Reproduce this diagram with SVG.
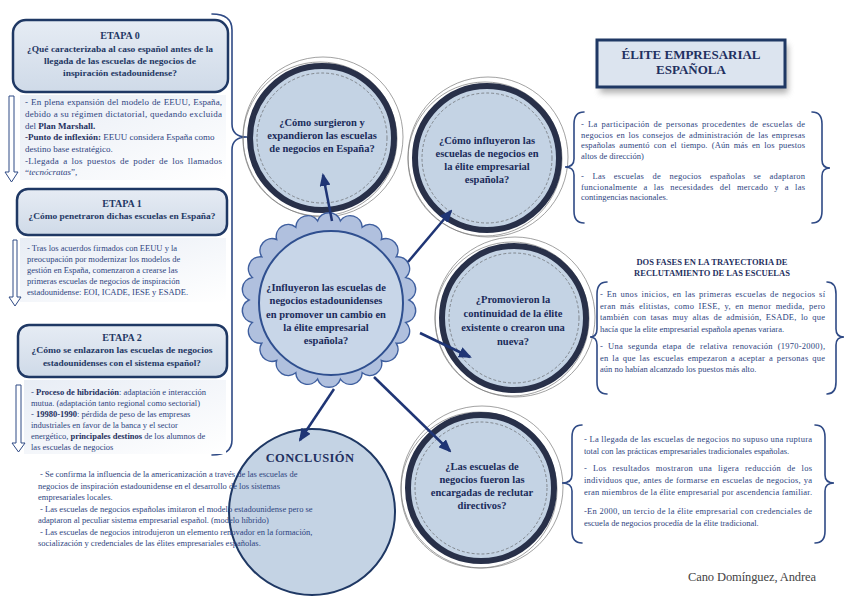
<svg xmlns="http://www.w3.org/2000/svg" width="848" height="599" viewBox="0 0 848 599" font-family="'Liberation Serif','Times New Roman',serif">
<style>
text{font-family:"Liberation Serif","Times New Roman",serif}
.body{font-size:8.5px;fill:#2e4480}
.body9{font-size:9px;fill:#2e4480}
.b{font-weight:bold;fill:#1f3060}
.ttl{font-size:10px;font-weight:bold;fill:#1f3864;text-anchor:middle}
.q{font-size:9px;font-weight:bold;fill:#1f3864;text-anchor:middle}
.ctext{font-size:10.5px;font-weight:bold;fill:#1a2b5a;text-anchor:middle}
.etbox{fill:url(#boxg);stroke:#1f3864;stroke-width:2.5}
.shade{fill:url(#shadeg)}
.harrow{fill:#fff;stroke:#2f4a85;stroke-width:1}
.brace{fill:none;stroke:#2f4a85;stroke-width:1.6;stroke-linecap:round}
.thick{fill:#c4d3e4;stroke:#283049;stroke-width:6}
.thin{fill:none;stroke:#7a7a7a;stroke-width:0.7}
.dash{fill:none;stroke:#555;stroke-width:0.6;stroke-dasharray:3 2}
.conn{stroke:#1f3575;stroke-width:2.5;fill:none;marker-end:url(#ah)}
</style>
<defs>
<linearGradient id="boxg" x1="0" y1="0" x2="0" y2="1">
<stop offset="0" stop-color="#e6ecf4"/><stop offset="1" stop-color="#cfdae8"/>
</linearGradient>
<linearGradient id="shadeg" x1="0" y1="0" x2="1" y2="1">
<stop offset="0" stop-color="#e8edf5"/><stop offset="1" stop-color="#ffffff"/>
</linearGradient>
<filter id="blur" x="-20%" y="-40%" width="140%" height="180%"><feGaussianBlur stdDeviation="3"/></filter>
<marker id="ah" markerUnits="userSpaceOnUse" markerWidth="13" markerHeight="11" viewBox="0 0 13 11" refX="11" refY="5.5" orient="auto">
<path d="M0,0 L13,5.5 L0,11 z" fill="#1f3575"/>
</marker>
</defs>
<rect width="848" height="599" fill="#ffffff"/>

<!-- left column brace -->
<path class="brace" d="M212,14 Q232,14 232,30 L232,124 Q232,137 247,137 Q232,137 232,150 L232,440 Q232,455 212,455"/>

<g id="etapa0">
<rect class="shade" x="20" y="95" width="206" height="85"/>
<rect class="etbox" x="13" y="20" width="215" height="72" rx="13"/>
<text class="ttl" x="120" y="39">ETAPA 0</text>
<text class="q" x="120" y="52" textLength="186" lengthAdjust="spacingAndGlyphs">¿Qué caracterizaba al caso español antes de la</text>
<text class="q" x="120" y="64" textLength="152" lengthAdjust="spacingAndGlyphs">llegada de las escuelas de negocios de</text>
<text class="q" x="120" y="76" textLength="114" lengthAdjust="spacingAndGlyphs">inspiración estadounidense?</text>
<path class="harrow" d="M9,96 L14,96 L14,172 L18,172 L11.5,182 L5,172 L9,172 Z"/>
<text class="body9" x="25" y="105" word-spacing="0.7" textLength="197" lengthAdjust="spacing">- En plena expansión del modelo de EEUU, España,</text>
<text class="body9" x="25" y="117" textLength="197" lengthAdjust="spacing">debido a su régimen dictatorial, quedando excluida</text>
<text class="body9" x="25" y="129">del <tspan class="b">Plan Marshall.</tspan></text>
<text class="body9" x="25" y="140"><tspan class="b">-Punto de inflexión:</tspan> EEUU considera España como</text>
<text class="body9" x="25" y="152">destino base estratégico.</text>
<text class="body9" x="25" y="164" word-spacing="1.7" textLength="197" lengthAdjust="spacing">-Llegada a los puestos de poder de los llamados</text>
<text class="body9" x="25" y="175">“<tspan font-style="italic">tecnócratas</tspan>”,</text>
</g>

<g id="etapa1">
<rect class="shade" x="20" y="238" width="206" height="64"/>
<rect class="etbox" x="17" y="189" width="210" height="46" rx="11"/>
<text class="ttl" x="122" y="207">ETAPA 1</text>
<text class="q" x="122" y="219" textLength="187" lengthAdjust="spacingAndGlyphs">¿Cómo penetraron dichas escuelas en España?</text>
<path class="harrow" d="M13,240 L17,240 L17,297 L21,297 L15,306 L9,297 L13,297 Z"/>
<text class="body" x="27" y="251">- Tras los acuerdos firmados con EEUU y la</text>
<text class="body" x="27" y="262">preocupación por modernizar los modelos de</text>
<text class="body" x="27" y="273">gestión en España, comenzaron a crearse las</text>
<text class="body" x="27" y="284">primeras escuelas de negocios de inspiración</text>
<text class="body" x="27" y="295">estadounidense: EOI, ICADE, IESE y ESADE.</text>
</g>

<g id="etapa2">
<rect class="shade" x="24" y="380" width="202" height="74"/>
<rect class="etbox" x="18" y="325" width="209" height="52" rx="11"/>
<text class="ttl" x="122" y="341">ETAPA 2</text>
<text class="q" x="122" y="353" textLength="181" lengthAdjust="spacingAndGlyphs">¿Cómo se enlazaron las escuelas de negocios</text>
<text class="q" x="122" y="366" textLength="158" lengthAdjust="spacingAndGlyphs">estadounidenses con el sistema español?</text>
<path class="harrow" d="M16,385 L21,385 L21,443 L25,443 L18.5,452 L12,443 L16,443 Z"/>
<text class="body" x="31" y="395">- <tspan class="b">Proceso de hibridación</tspan>: adaptación e interacción</text>
<text class="body" x="31" y="406">mutua. (adaptación tanto regional como sectorial)</text>
<text class="body" x="31" y="417">- <tspan class="b">19980-1990</tspan>: pérdida de peso de las empresas</text>
<text class="body" x="31" y="428">industriales en favor de la banca y el sector</text>
<text class="body" x="31" y="439">energético, <tspan class="b">principales destinos</tspan> de los alumnos de</text>
<text class="body" x="31" y="450">las escuelas de negocios</text>
</g>

<g id="circle-surgieron">
<circle class="thin" cx="323" cy="137" r="80"/>
<circle class="thin" cx="320" cy="139" r="77"/>
<circle class="thick" cx="322" cy="138" r="72"/>
<circle class="dash" cx="322" cy="138" r="65"/>
<text class="ctext" x="322" y="126">¿Cómo surgieron y</text>
<text class="ctext" x="322" y="139">expandieron las escuelas</text>
<text class="ctext" x="322" y="152">de negocios en España?</text>
</g>

<g id="circle-influyeron">
<circle class="thin" cx="488" cy="157" r="80"/>
<circle class="thin" cx="485" cy="159" r="77"/>
<circle class="thick" cx="487" cy="158" r="72"/>
<circle class="dash" cx="487" cy="158" r="65"/>
<text class="ctext" x="487" y="144">¿Cómo influyeron las</text>
<text class="ctext" x="487" y="157">escuelas de negocios en</text>
<text class="ctext" x="487" y="170">la élite empresarial</text>
<text class="ctext" x="487" y="183">española?</text>
</g>

<g id="circle-promovieron">
<circle class="thin" cx="515" cy="317" r="80"/>
<circle class="thin" cx="512" cy="319" r="77"/>
<circle class="thick" cx="514" cy="318" r="72"/>
<circle class="dash" cx="514" cy="318" r="65"/>
<text class="ctext" x="513" y="303">¿Promovieron la</text>
<text class="ctext" x="513" y="317">continuidad de la élite</text>
<text class="ctext" x="513" y="331">existente o crearon una</text>
<text class="ctext" x="513" y="345">nueva?</text>
</g>

<g id="circle-reclutar">
<circle class="thin" cx="482" cy="487" r="81"/>
<circle class="thin" cx="479" cy="490" r="78"/>
<circle class="thick" cx="481" cy="488" r="73"/>
<circle class="dash" cx="481" cy="488" r="66"/>
<text class="ctext" x="482" y="470">¿Las escuelas de</text>
<text class="ctext" x="482" y="483">negocios fueron las</text>
<text class="ctext" x="482" y="496">encargadas de reclutar</text>
<text class="ctext" x="482" y="509">directivos?</text>
</g>

<g id="center">
<path transform="translate(329,300)" fill="#b0c0de" stroke="#3f5f9f" stroke-width="1.5" d="M80,0 A12,12 0 0 1 76.76,22.54 A12,12 0 0 1 67.30,43.25 A12,12 0 0 1 52.39,60.46 A12,12 0 0 1 33.23,72.77 A12,12 0 0 1 11.38,79.18 A12,12 0 0 1 -11.38,79.18 A12,12 0 0 1 -33.23,72.77 A12,12 0 0 1 -52.39,60.46 A12,12 0 0 1 -67.30,43.25 A12,12 0 0 1 -76.76,22.54 A12,12 0 0 1 -80,0 A12,12 0 0 1 -76.76,-22.54 A12,12 0 0 1 -67.30,-43.25 A12,12 0 0 1 -52.39,-60.46 A12,12 0 0 1 -33.23,-72.77 A12,12 0 0 1 -11.38,-79.18 A12,12 0 0 1 11.38,-79.18 A12,12 0 0 1 33.23,-72.77 A12,12 0 0 1 52.39,-60.46 A12,12 0 0 1 67.30,-43.25 A12,12 0 0 1 76.76,-22.54 A12,12 0 0 1 80,0 Z"/>
<circle cx="331" cy="303" r="72" fill="#c8d6e8" stroke="#2f4f8f" stroke-width="2"/>
<text class="ctext" x="326" y="291">¿Influyeron las escuelas de</text>
<text class="ctext" x="326" y="304">negocios estadounidenses</text>
<text class="ctext" x="326" y="318">en promover un cambio en</text>
<text class="ctext" x="326" y="331">la élite empresarial</text>
<text class="ctext" x="326" y="344">española?</text>
</g>

<g id="conclusion">
<circle cx="312" cy="512" r="83" fill="#c4d3e4" stroke="#1f3864" stroke-width="2"/>
<text x="310" y="462" font-size="12.5" font-weight="bold" fill="#1f3060" text-anchor="middle" letter-spacing="0.4">CONCLUSIÓN</text>
<text class="body" x="40" y="477">- Se confirma la influencia de la americanización a través de las escuelas de</text>
<text class="body" x="38" y="489">negocios de inspiración estadounidense en el desarrollo de los sistemas</text>
<text class="body" x="38" y="500">empresariales locales.</text>
<text class="body" x="40" y="512">- Las escuelas de negocios españolas imitaron el modelo estadounidense pero se</text>
<text class="body" x="38" y="523">adaptaron al peculiar sistema empresarial español. (modelo híbrido)</text>
<text class="body" x="40" y="535">- Las escuelas de negocios introdujeron un elemento renovador en la formación,</text>
<text class="body" x="38" y="546">socialización y credenciales de las élites empresariales españolas.</text>
</g>

<g id="elite-title">
<rect x="600" y="45" width="188" height="48" fill="#7a7a7a" opacity="0.6" filter="url(#blur)"/>
<rect x="597" y="40" width="188" height="47" fill="#dce4ef" stroke="#1f3864" stroke-width="3"/>
<text x="691" y="59" font-size="13" font-weight="bold" fill="#1f3060" text-anchor="middle">ÉLITE EMPRESARIAL</text>
<text x="691" y="74" font-size="13" font-weight="bold" fill="#1f3060" text-anchor="middle">ESPAÑOLA</text>
</g>

<g id="note-participacion">
<path class="brace" d="M584,112 Q574,112 574,124 L574,159 Q574,167 565,167 Q574,167 574,175 L574,211 Q574,223 584,223"/>
<path class="brace" d="M812,112 Q822,112 822,124 L822,160 Q822,168 830,168 Q822,168 822,176 L822,211 Q822,223 812,223"/>
<text class="body" x="581" y="127" word-spacing="1.5" textLength="224" lengthAdjust="spacing">- La participación de personas procedentes de escuelas de</text>
<text class="body" x="581" y="138" word-spacing="1.2" textLength="224" lengthAdjust="spacing">negocios en los consejos de administración de las empresas</text>
<text class="body" x="581" y="148" word-spacing="1.8" textLength="224" lengthAdjust="spacing">españolas aumentó con el tiempo. (Aún más en los puestos</text>
<text class="body" x="581" y="159">altos de dirección)</text>
<text class="body" x="581" y="179" word-spacing="6" textLength="224" lengthAdjust="spacing">- Las escuelas de negocios españolas se adaptaron</text>
<text class="body" x="581" y="190" word-spacing="3.8" textLength="224" lengthAdjust="spacing">funcionalmente a las necesidades del mercado y a las</text>
<text class="body" x="581" y="200">contingencias nacionales.</text>
</g>

<g id="note-fases">
<text x="712" y="265" font-size="8.5" font-weight="bold" fill="#1f3060" text-anchor="middle">DOS FASES EN LA TRAYECTORIA DE</text>
<text x="712" y="276" font-size="8.5" font-weight="bold" fill="#1f3060" text-anchor="middle">RECLUTAMIENTO DE LAS ESCUELAS</text>
<path class="brace" d="M607,282 Q597,282 597,294 L597,329 Q597,337 590,337 Q597,337 597,345 L597,382 Q597,394 607,394"/>
<path class="brace" d="M827,282 Q836,282 836,294 L836,329 Q836,337 844,337 Q836,337 836,345 L836,382 Q836,394 827,394"/>
<text class="body" x="600" y="297" word-spacing="1" textLength="225" lengthAdjust="spacing">- En unos inicios, en las primeras escuelas de negocios sí</text>
<text class="body" x="600" y="309" word-spacing="2" textLength="225" lengthAdjust="spacing">eran más elitistas, como IESE, y, en menor medida, pero</text>
<text class="body" x="600" y="320" word-spacing="2" textLength="225" lengthAdjust="spacing">también con tasas muy altas de admisión, ESADE, lo que</text>
<text class="body" x="600" y="332">hacía que la elite empresarial española apenas variara.</text>
<text class="body" x="600" y="349" word-spacing="2.6" textLength="225" lengthAdjust="spacing">- Una segunda etapa de relativa renovación (1970-2000),</text>
<text class="body" x="600" y="361" word-spacing="1.4" textLength="225" lengthAdjust="spacing">en la que las escuelas empezaron a aceptar a personas que</text>
<text class="body" x="600" y="372">aún no habían alcanzado los puestos más alto.</text>
</g>

<g id="note-llegada">
<path class="brace" d="M582,425 Q572,425 572,437 L572,475 Q572,483 562,483 Q572,483 572,491 L572,531 Q572,543 582,543"/>
<path class="brace" d="M815,425 Q825,425 825,437 L825,475 Q825,483 834,483 Q825,483 825,491 L825,531 Q825,543 815,543"/>
<text class="body" x="584" y="442" textLength="228" lengthAdjust="spacing">- La llegada de las escuelas de negocios no supuso una ruptura</text>
<text class="body" x="584" y="454">total con las prácticas empresariales tradicionales españolas.</text>
<text class="body" x="584" y="471" word-spacing="3.5" textLength="228" lengthAdjust="spacing">- Los resultados mostraron una ligera reducción de los</text>
<text class="body" x="584" y="483" word-spacing="0.4" textLength="228" lengthAdjust="spacing">individuos que, antes de formarse en escuelas de negocios, ya</text>
<text class="body" x="584" y="495" textLength="228" lengthAdjust="spacing">eran miembros de la élite empresarial por ascendencia familiar.</text>
<text class="body" x="584" y="514" textLength="228" lengthAdjust="spacing">-En 2000, un tercio de la élite empresarial con credenciales de</text>
<text class="body" x="584" y="526">escuela de negocios procedía de la élite tradicional.</text>
</g>

<g id="connectors">
<line class="conn" x1="332" y1="221" x2="323" y2="175"/>
<line class="conn" x1="408" y1="262" x2="451" y2="211"/>
<line class="conn" x1="420" y1="333" x2="470" y2="357"/>
<line class="conn" x1="374" y1="377" x2="450" y2="451"/>
<line class="conn" x1="334" y1="389" x2="300" y2="440"/>
</g>

<text x="688" y="581" font-size="12.5" fill="#444" textLength="128" lengthAdjust="spacing">Cano Domínguez, Andrea</text>
</svg>
